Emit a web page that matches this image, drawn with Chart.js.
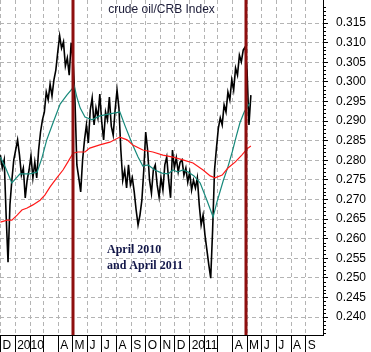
<!DOCTYPE html>
<html>
<head>
<meta charset="utf-8">
<script src="https://cdn.jsdelivr.net/npm/chart.js@4.4.1/dist/chart.umd.min.js"></script>
<style>
  html, body { margin: 0; padding: 0; background: #fff; }
</style>
</head>
<body>
<canvas id="chart" width="371" height="352"></canvas>
<script>
// days counted from 1 Jan 2010
const dayOf = (y, m, d) => (Date.UTC(y, m, d) - Date.UTC(2010, 0, 1)) / 864e5;

// --- data ---
const monthLabels = ['D', '2010', '', '', 'A', 'M', 'J', 'J', 'A', 'S', 'O', 'N',
                     'D', '2011', '', '', 'A', 'M', 'J', 'J', 'A', 'S'];
const monthStarts = monthLabels.map((_, k) => dayOf(2009, 11 + k, 1));

const yTicks = [0.240, 0.245, 0.250, 0.255, 0.260, 0.265, 0.270, 0.275,
                0.280, 0.285, 0.290, 0.295, 0.300, 0.305, 0.310, 0.315];

const markerDates = [[2010, 4, 1], [2011, 3, 28]];

// crude oil / CRB ratio, one value every 4 days from 1 Dec 2009
const ratioStart = dayOf(2009, 11, 1);
const ratioStep = 4;
const ratio = [
  0.2813, 0.2780, 0.2801, 0.2660, 0.2540, 0.2686, 0.2749, 0.2801, 0.2826, 0.2852,
  0.2813, 0.2762, 0.2780, 0.2704, 0.2749, 0.2775, 0.2811, 0.2755, 0.2795, 0.2755,
  0.2826, 0.2872, 0.2903, 0.2923, 0.2974, 0.2954, 0.2994, 0.2964, 0.3005, 0.3030,
  0.3076, 0.3117, 0.3086, 0.3102, 0.3040, 0.3061, 0.3017, 0.3099, 0.3056, 0.2954,
  0.2788, 0.2755, 0.2719, 0.2801, 0.2852, 0.2890, 0.2844, 0.2928, 0.2959, 0.2890,
  0.2933, 0.2908, 0.2969, 0.2897, 0.2852, 0.2923, 0.2903, 0.2961, 0.2887, 0.2864,
  0.2928, 0.2979, 0.2933, 0.2826, 0.2749, 0.2775, 0.2729, 0.2788, 0.2737, 0.2755,
  0.2719, 0.2673, 0.2635, 0.2660, 0.2698, 0.2775, 0.2872, 0.2826, 0.2749, 0.2716,
  0.2775, 0.2788, 0.2737, 0.2706, 0.2755, 0.2724, 0.2788, 0.2808, 0.2749, 0.2704,
  0.2826, 0.2780, 0.2806, 0.2770, 0.2795, 0.2801, 0.2762, 0.2780, 0.2744, 0.2770,
  0.2724, 0.2749, 0.2729, 0.2755, 0.2686, 0.2635, 0.2660, 0.2609, 0.2571, 0.2533,
  0.2499, 0.2622, 0.2775, 0.2831, 0.2882, 0.2908, 0.2890, 0.2941, 0.2923, 0.2974,
  0.2954, 0.3005, 0.2979, 0.3035, 0.3017, 0.3068, 0.3051, 0.3081, 0.3089, 0.3030,
  0.2890, 0.2966
];

// short moving average (teal)
const tealDays = [-31, -20, -7, 10, 31, 46, 56, 66, 79, 94, 108, 119, 123, 129, 136,
                  146, 161, 177, 198, 219, 230, 244, 257, 267, 278, 292, 307, 320, 330, 340,
                  351, 362, 374, 387, 401, 414, 422, 435, 445, 454, 462, 470, 479, 491];
const tealVals = [0.2808, 0.2780, 0.2742, 0.2765, 0.2765, 0.2770, 0.2806, 0.2852, 0.2895, 0.2943,
                  0.2966, 0.2982, 0.2992, 0.2961, 0.2933, 0.2910, 0.2903, 0.2913, 0.2918, 0.2923,
                  0.2887, 0.2844, 0.2808, 0.2785, 0.2788, 0.2775, 0.2767, 0.2765, 0.2775, 0.2770,
                  0.2775, 0.2770, 0.2760, 0.2742, 0.2698, 0.2655, 0.2693, 0.2747, 0.2783, 0.2821,
                  0.2859, 0.2895, 0.2923, 0.2946];

// long moving average (red)
const redDays = [-31, -17, -7, 4, 14, 25, 37, 52, 62, 73, 87, 100, 110, 121, 131,
                 146, 156, 177, 198, 219, 234, 246, 267, 288, 309, 330, 351, 372, 393, 408,
                 418, 433, 445, 460, 474, 485, 493];
const redVals = [0.2642, 0.2647, 0.2647, 0.2660, 0.2673, 0.2678, 0.2686, 0.2698, 0.2711, 0.2732,
                 0.2755, 0.2775, 0.2795, 0.2818, 0.2821, 0.2821, 0.2831, 0.2839, 0.2846, 0.2859,
                 0.2852, 0.2839, 0.2826, 0.2821, 0.2813, 0.2808, 0.2801, 0.2793, 0.2775, 0.2760,
                 0.2755, 0.2762, 0.2780, 0.2795, 0.2813, 0.2829, 0.2836];

const toPoints = (days, vals) => vals.map((v, i) => ({ x: days[i], y: v }));
const ratioPoints = ratio.map((v, i) => ({ x: ratioStart + i * ratioStep, y: v }));

const sans = "'Liberation Sans', Arial, sans-serif";

// red date markers, minor ticks and the texts
const overlay = {
  id: 'overlay',
  afterDatasetsDraw(chart) {
    const { ctx, chartArea: a, scales: { x } } = chart;
    ctx.save();
    ctx.strokeStyle = '#8e0f0f';
    ctx.lineWidth = 3;
    markerDates.forEach(d => {
      const px = Math.round(x.getPixelForValue(dayOf(...d)));
      ctx.beginPath();
      ctx.moveTo(px, a.top);
      ctx.lineTo(px, a.bottom);
      ctx.stroke();
    });
    ctx.restore();
  },
  afterDraw(chart) {
    const { ctx, chartArea: a, scales: { x, y } } = chart;
    ctx.save();
    // minor ticks on the value axis
    ctx.strokeStyle = '#000';
    ctx.lineWidth = 1;
    for (let m = 236; m <= 320; m++) {
      if (m % 5 === 0) continue;
      const py = Math.round(y.getPixelForValue(m / 1000)) + 0.5;
      ctx.beginPath();
      ctx.moveTo(a.right, py);
      ctx.lineTo(a.right + 3, py);
      ctx.stroke();
    }
    // title
    ctx.fillStyle = '#1c1c38';
    ctx.font = '12px ' + sans;
    ctx.textAlign = 'center';
    ctx.textBaseline = 'middle';
    ctx.fillText('crude oil/CRB Index', (a.left + a.right) / 2, a.top + 10);
    // note
    ctx.fillStyle = '#14184a';
    ctx.font = "bold 12px 'Liberation Serif', 'Times New Roman', serif";
    ctx.textAlign = 'left';
    ctx.textBaseline = 'alphabetic';
    const nx = x.getPixelForValue(192);
    ctx.fillText('April 2010', nx, y.getPixelForValue(0.2564));
    ctx.fillText('and April 2011', nx, y.getPixelForValue(0.2522));
    ctx.restore();
  }
};

new Chart(document.getElementById('chart'), {
  type: 'line',
  data: {
    datasets: [
      { label: 'long MA', data: toPoints(redDays, redVals), borderColor: '#ff1a1a',
        borderWidth: 1.2, pointRadius: 0, tension: 0 },
      { label: 'short MA', data: toPoints(tealDays, tealVals), borderColor: '#17897b',
        borderWidth: 1.2, pointRadius: 0, tension: 0 },
      { label: 'crude oil/CRB', data: ratioPoints, borderColor: '#000',
        borderWidth: 1.6, pointRadius: 0, tension: 0 }
    ]
  },
  options: {
    responsive: false,
    animation: false,
    devicePixelRatio: 1,
    layout: { padding: 0 },
    plugins: { legend: { display: false }, tooltip: { enabled: false } },
    scales: {
      x: {
        type: 'linear',
        min: -31.8,
        max: 643.9,
        afterBuildTicks: s => { s.ticks = monthStarts.map(v => ({ value: v })); },
        afterFit: s => { s.height = 17; s.paddingLeft = 0; s.paddingRight = 0; },
        grid: { color: '#b4b4b4', tickColor: '#000', tickLength: 17, tickWidth: 1 },
        border: { color: '#000', width: 1, dash: [4, 3] },
        ticks: {
          autoSkip: false, maxRotation: 0, align: 'start', padding: -14, labelOffset: 2,
          color: '#000', font: { family: sans, size: 12 },
          callback: (v, i) => monthLabels[i]
        }
      },
      y: {
        type: 'linear',
        position: 'right',
        min: 0.23541,
        max: 0.32087,
        afterBuildTicks: s => { s.ticks = yTicks.map(v => ({ value: v })); },
        afterFit: s => { s.width = 48; s.paddingTop = 0; s.paddingBottom = 0; },
        grid: { color: '#b4b4b4', tickColor: '#000', tickLength: 5, tickWidth: 1 },
        border: { color: '#000', width: 1, dash: [4, 3] },
        ticks: {
          padding: 8, color: '#000', font: { family: sans, size: 12 },
          callback: v => v.toFixed(3)
        }
      }
    }
  },
  plugins: [overlay]
});
</script>
</body>
</html>
